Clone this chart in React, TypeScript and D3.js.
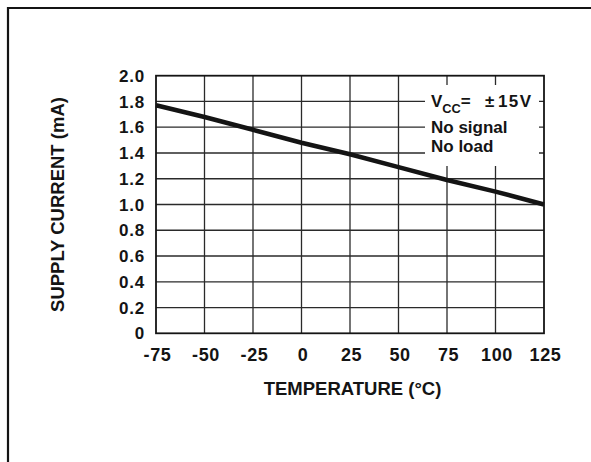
import React from "react";
import * as d3 from "d3";

const xTicks = [-75, -50, -25, 0, 25, 50, 75, 100, 125];
const yTicks = [0, 0.2, 0.4, 0.6, 0.8, 1.0, 1.2, 1.4, 1.6, 1.8, 2.0];
const yTickLabels = ["0", "0.2", "0.4", "0.6", "0.8", "1.0", "1.2", "1.4", "1.6", "1.8", "2.0"];
const temperature = [-75, -50, -25, 0, 25, 50, 75, 100, 125];
const supplyCurrent = [1.77, 1.68, 1.58, 1.48, 1.39, 1.29, 1.19, 1.1, 1.0];
const legendLines = ["No signal", "No load"];

const FONT = "'Liberation Sans', Arial, Helvetica, sans-serif";
const INK = "#141414";

export default function App() {
  const W = 591;
  const H = 462;
  const left = 156, right = 544, top = 75.7, bottom = 333.3;
  const x = d3.scaleLinear().domain([-75, 125]).range([left, right]);
  const y = d3.scaleLinear().domain([0, 2]).range([bottom, top]);
  const line = d3
    .line<number>()
    .x((_, i) => x(temperature[i]))
    .y((d) => y(d));
  const path = line(supplyCurrent) || "";

  return (
    <svg
      width={W}
      height={H}
      viewBox={`0 0 ${W} ${H}`}
      style={{ position: "fixed", left: 0, top: 0, display: "block", background: "#fff" }}
    >
      <rect x={0} y={0} width={W} height={H} fill="#fff" />
      {/* outer frame */}
      <path d={`M8,${H} V8 H${W}`} fill="none" stroke={INK} strokeWidth={2.2} />

      {/* grid */}
      {xTicks.slice(1, -1).map((t) => (
        <line key={"vx" + t} x1={x(t)} x2={x(t)} y1={top} y2={bottom} stroke="#2a2a2a" strokeWidth={1.3} />
      ))}
      {yTicks.slice(1, -1).map((t) => (
        <line key={"hy" + t} x1={left} x2={right} y1={y(t)} y2={y(t)} stroke="#2a2a2a" strokeWidth={1.3} />
      ))}

      {/* legend box masking grid */}
      <rect x={425} y={85} width={114} height={81} fill="#fff" />

      {/* plot border */}
      <rect x={left} y={top} width={right - left} height={bottom - top} fill="none" stroke={INK} strokeWidth={1.8} />

      {/* data line */}
      <path d={path} fill="none" stroke={INK} strokeWidth={4.6} />

      {/* y tick labels */}
      {yTicks.map((t, i) => (
        <text
          key={"yl" + t}
          x={145}
          y={y(t)}
          dy="0.36em"
          textAnchor="end"
          fontFamily={FONT}
          fontWeight="bold"
          fontSize={17}
          letterSpacing={0.8}
          fill={INK}
        >
          {yTickLabels[i]}
        </text>
      ))}

      {/* x tick labels */}
      {xTicks.map((t) => (
        <text
          key={"xl" + t}
          x={x(t) + 1.5}
          y={360.5}
          textAnchor="middle"
          fontFamily={FONT}
          fontWeight="bold"
          fontSize={18}
          letterSpacing={0.6}
          fill={INK}
        >
          {String(t)}
        </text>
      ))}

      {/* axis titles */}
      <text
        x={352.5}
        y={395}
        textAnchor="middle"
        fontFamily={FONT}
        fontWeight="bold"
        fontSize={18.5}
        fill={INK}
      >
        TEMPERATURE (°C)
      </text>
      <text
        transform={`translate(64,${(top + bottom) / 2}) rotate(-90)`}
        textAnchor="middle"
        fontFamily={FONT}
        fontWeight="bold"
        fontSize={18.5}
        fill={INK}
      >
        SUPPLY CURRENT (mA)
      </text>

      {/* legend */}
      <text x={431} y={106.7} fontFamily={FONT} fontWeight="bold" fontSize={17} fill={INK}>
        V
        <tspan dy={6.3} fontSize={12.8}>CC</tspan>
        <tspan dy={-6.3}>=</tspan>
      </text>
      <text x={485} y={106.7} fontFamily={FONT} fontWeight="bold" fontSize={17} fill={INK}>
        ±
      </text>
      <text x={498} y={106.7} fontFamily={FONT} fontWeight="bold" fontSize={17} letterSpacing={1.4} fill={INK}>
        15V
      </text>
      {legendLines.map((s, i) => (
        <text
          key={s}
          x={431}
          y={133.3 + i * 18.4}
          fontFamily={FONT}
          fontWeight="bold"
          fontSize={17}
          fill={INK}
        >
          {s}
        </text>
      ))}
    </svg>
  );
}
